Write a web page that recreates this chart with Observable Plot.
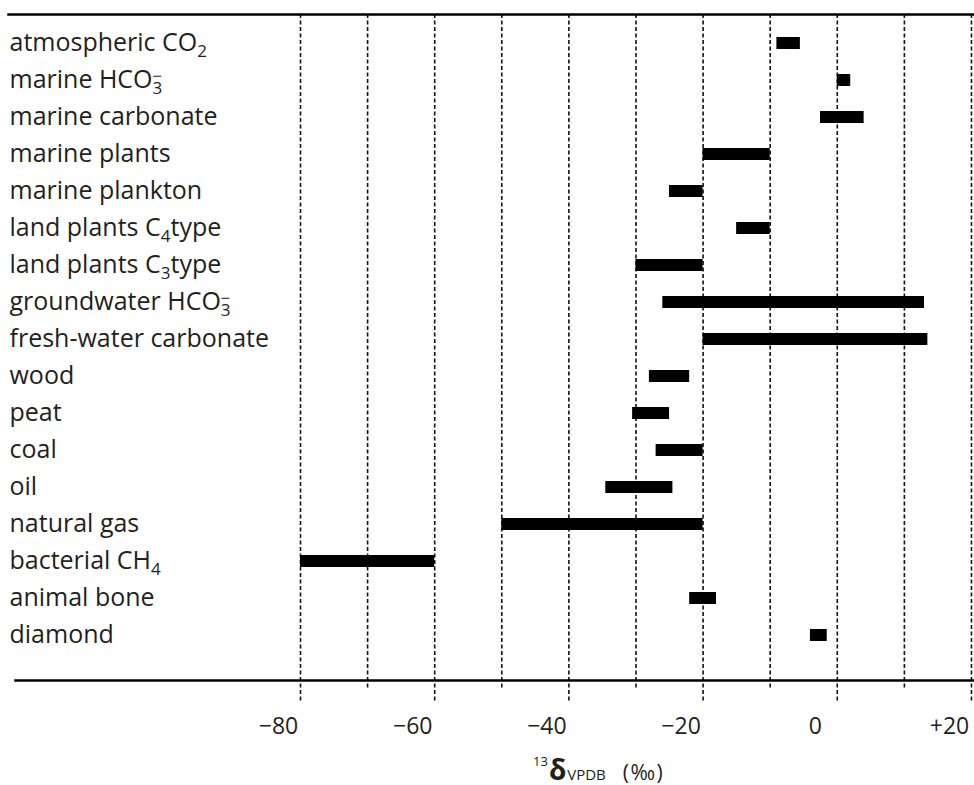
<!DOCTYPE html>
<html><head><meta charset="utf-8">
<script src="https://cdn.jsdelivr.net/npm/d3@7"></script>
<script src="https://cdn.jsdelivr.net/npm/@observablehq/plot@0.6"></script>
<style>body{margin:0;background:#fff}</style>
</head><body><div id="chart"></div>
<script>
const categories = [
  "atmospheric CO₂", "marine HCO₃⁻", "marine carbonate", "marine plants",
  "marine plankton", "land plants C₄type", "land plants C₃type",
  "groundwater HCO₃⁻", "fresh-water carbonate", "wood", "peat", "coal",
  "oil", "natural gas", "bacterial CH₄", "animal bone", "diamond"
];
const lows  = [-9, 0, -2.5, -20, -25, -15, -30, -26, -20, -28, -30.5, -27, -34.5, -50, -80, -22, -4];
const highs = [-5.5, 2, 4, -10, -20, -10, -20, 13, 13.5, -22, -25, -20, -24.5, -20, -60, -18, -1.5];
const majorTicks = [-80, -60, -40, -20, 0, 20];
const minorTicks = [-70, -50, -30, -10, 10];

const rows = categories.map((c, i) => ({category: c, lo: lows[i], hi: highs[i]}));
const fmt = d => d > 0 ? "+" + d : d < 0 ? "\u2212" + Math.abs(d) : "0";
const FONT = "'Open Sans', sans-serif";
const INK = "#231f20";
const dash = {stroke: "#111", strokeWidth: 1.6, strokeDasharray: "4,2.5"};

const plot = Plot.plot({
  width: 974, height: 785,
  marginTop: 14, marginBottom: 105, marginLeft: 0, marginRight: 0,
  style: {fontFamily: FONT, background: "#fff", color: INK},
  x: {domain: [-124.71, 20.45]},
  y: {type: "band", domain: categories, paddingInner: 0.677, paddingOuter: 0.3385, insetTop: 7, insetBottom: 24, axis: null},
  marks: [
    Plot.ruleX(minorTicks, {x: d => d, ...dash, insetBottom: -10}),
    Plot.ruleX(majorTicks, {x: d => d, ...dash, insetBottom: -22}),
    Plot.barX(rows, {x1: "lo", x2: "hi", y: "category", fill: "#000"}),
    Plot.text(rows, {y: "category", text: "category", frameAnchor: "left", textAnchor: "start", dx: 9, dy: -1, fontSize: 25, fill: INK}),
    Plot.frame({anchor: "top", stroke: "#000", strokeWidth: 2.5, insetLeft: 8}),
    Plot.frame({anchor: "bottom", stroke: "#000", strokeWidth: 2.5, insetLeft: 15}),
    Plot.axisX({ticks: majorTicks, tickFormat: fmt, tickSize: 0, tickPadding: 37, fontSize: 23, dx: -22, label: null, fill: INK})
  ]
});

// subscripts / superscripts in category labels
const subMap = {"₂": "2", "₃": "3", "₄": "4"};
d3.select(plot).selectAll("text").each(function() {
  const s = this.textContent;
  if (!/[₂₃₄⁻]/.test(s)) return;
  const el = d3.select(this);
  el.text(null);
  const parts = s.match(/[₂₃₄]⁻?|[^₂₃₄⁻]+/g);
  let shift = 0;
  for (const p of parts) {
    if (subMap[p[0]]) {
      el.append("tspan").style("font-size", "17px").attr("dy", 6 - shift).text(subMap[p[0]]);
      shift = 6;
      if (p.length > 1) {
        el.append("tspan").style("font-size", "17px").attr("dx", -10).attr("dy", -12).text("\u2212");
        shift = -6;
      }
    } else {
      el.append("tspan").attr("dy", -shift).text(p);
      shift = 0;
    }
  }
});

// axis title
const t = d3.select(plot).append("text")
  .attr("x", 533).attr("y", 780).attr("fill", INK)
  .attr("text-anchor", "start").style("font-family", FONT);
t.append("tspan").style("font-size", "13px").attr("dy", -14).text("13");
t.append("tspan").style("font-size", "28px").style("font-weight", "bold").attr("dy", 14).attr("dx", 1).text("δ");
t.append("tspan").style("font-size", "15px").attr("dx", 1).text("VPDB");
t.append("tspan").style("font-size", "21px").style("letter-spacing", "1.5px").attr("dx", 17).text("(‰)");

document.getElementById("chart").appendChild(plot);
</script>
</body></html>
